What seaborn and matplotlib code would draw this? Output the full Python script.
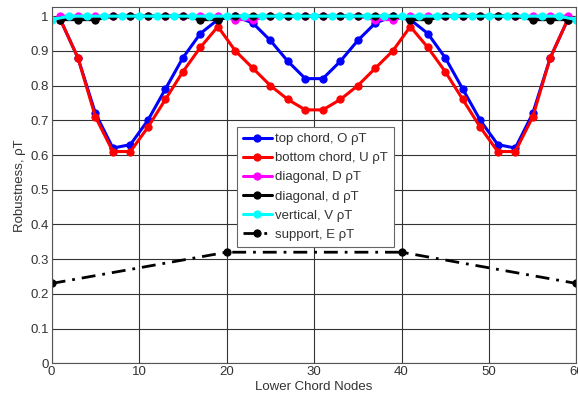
import numpy as np
import pandas as pd
import matplotlib
matplotlib.use("Agg")
import matplotlib.pyplot as plt
import seaborn as sns

# ---- data ----
odd_nodes = list(range(1, 60, 2))          # 1,3,...,59
even_nodes = list(range(0, 61, 2))         # 0,2,...,60
support_nodes = [0, 20, 40, 60]

top_chord = [0.99, 0.88, 0.72, 0.62, 0.63, 0.70, 0.79, 0.88, 0.95, 0.99,
             1.00, 0.98, 0.93, 0.87, 0.82, 0.82, 0.87, 0.93, 0.98, 1.00,
             0.99, 0.95, 0.88, 0.79, 0.70, 0.63, 0.62, 0.72, 0.88, 0.99]
bottom_chord = [0.99, 0.88, 0.71, 0.61, 0.61, 0.68, 0.76, 0.84, 0.91, 0.97,
                0.90, 0.85, 0.80, 0.76, 0.73, 0.73, 0.76, 0.80, 0.85, 0.90,
                0.97, 0.91, 0.84, 0.76, 0.68, 0.61, 0.61, 0.71, 0.88, 0.99]
diagonal_D = [1.00, 1.00, 1.00, 1.00, 1.00, 1.00, 1.00, 1.00, 1.00, 1.00,
              0.99, 0.99, 1.00, 1.00, 1.00, 1.00, 1.00, 1.00, 0.99, 0.99,
              1.00, 1.00, 1.00, 1.00, 1.00, 1.00, 1.00, 1.00, 1.00, 1.00]
diagonal_d = [0.99, 0.99, 0.99, 1.00, 1.00, 1.00, 1.00, 1.00, 0.99, 0.99,
              1.00, 1.00, 1.00, 1.00, 1.00, 1.00, 1.00, 1.00, 1.00, 1.00,
              0.99, 0.99, 1.00, 1.00, 1.00, 1.00, 1.00, 0.99, 0.99, 0.99]
vertical_V = [0.99] + [1.00] * 29 + [0.99]
support_E = [0.23, 0.32, 0.32, 0.23]

labels = ["top chord, O \u03c1T", "bottom chord, U \u03c1T", "diagonal, D \u03c1T",
          "diagonal, d \u03c1T", "vertical, V \u03c1T", "support, E \u03c1T"]

# ---- style ----
sns.set_style("white")
plt.rcParams['font.family'] = ['Liberation Sans', 'DejaVu Sans']

fig = plt.figure(figsize=(5.78, 3.98), dpi=100)
ax = fig.add_axes([0.0894, 0.0872, 0.9974 - 0.0894, 0.9812 - 0.0872])

series = [
    (odd_nodes, top_chord, "#0000ff", labels[0]),
    (odd_nodes, bottom_chord, "#ff0000", labels[1]),
    (odd_nodes, diagonal_D, "#ff00ff", labels[2]),
    (odd_nodes, diagonal_d, "#000000", labels[3]),
    (even_nodes, vertical_V, "#00ffff", labels[4]),
]
for xs, ys, col, lab in series:
    df = pd.DataFrame({"x": xs, "y": ys})
    sns.lineplot(data=df, x="x", y="y", ax=ax, color=col, linestyle="-",
                 linewidth=2.2, marker="o", markersize=5.2, markeredgecolor=col,
                 label=lab, sort=False)

df_e = pd.DataFrame({"x": support_nodes, "y": support_E})
sns.lineplot(data=df_e, x="x", y="y", ax=ax, color="black", linewidth=2.0,
             marker="o", markersize=5.2, markeredgecolor="black", label=labels[5],
             sort=False)
ax.lines[-1].set_linestyle((0, (5, 2.5, 1, 2.5)))

ax.set_xlim(0, 60)
ax.set_ylim(0, 1.025)
ax.set_xticks(np.arange(0, 61, 10))
ax.set_yticks(np.arange(0, 1.01, 0.1))
ax.set_yticklabels(["0", "0.1", "0.2", "0.3", "0.4", "0.5", "0.6", "0.7", "0.8", "0.9", "1"])
ax.grid(True, color="#333333", linewidth=0.8)
ax.set_axisbelow(True)
for s in ax.spines.values():
    s.set_color("#555555")
    s.set_linewidth(0.8)
ax.tick_params(axis="both", direction="in", length=3, labelsize=9.5,
               colors="#333333", pad=2)
ax.set_xlabel("Lower Chord Nodes", fontsize=9.5, color="#333333", labelpad=2)
ax.set_ylabel("Robustness, \u03c1T", fontsize=9.5, color="#333333", labelpad=3)

leg = ax.legend(loc="upper left", bbox_to_anchor=(0.353, 0.664), borderaxespad=0,
                fontsize=9.5, frameon=True, fancybox=False, edgecolor="#666666",
                framealpha=1, handlelength=2.2, handletextpad=0.25,
                labelspacing=0.52, borderpad=0.45)
leg.get_frame().set_linewidth(0.8)
for t in leg.get_texts():
    t.set_color("#333333")

fig.savefig("out.png", dpi=100)
